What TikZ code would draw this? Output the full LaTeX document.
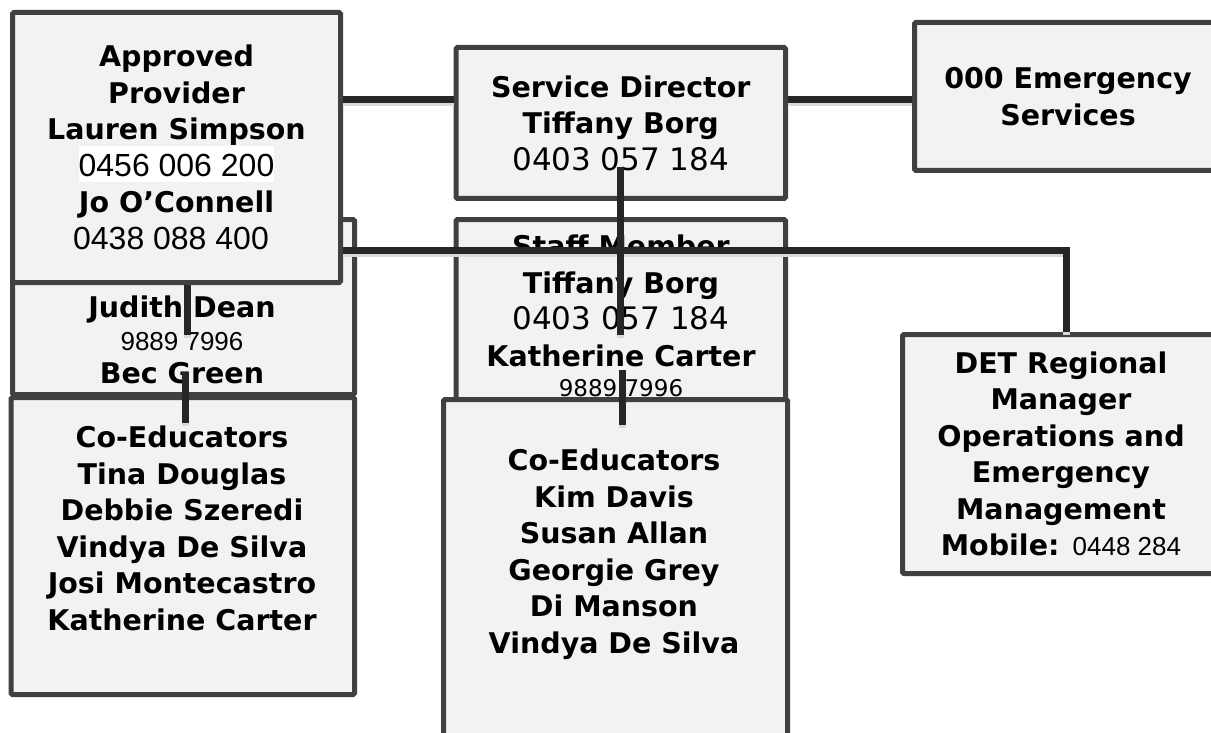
\documentclass[tikz,border=0pt]{standalone}
\usepackage{fontspec}
\setmainfont{DejaVu Sans}
\newfontfamily\arialfont{Liberation Sans}
\definecolor{boxfill}{HTML}{F2F2F2}
\definecolor{boxline}{HTML}{404040}
\definecolor{conncol}{HTML}{262626}
\newcommand\myB{\fontsize{28.5}{36.5}\selectfont\bfseries}
\newcommand\myReg[2]{{\fontsize{#1}{36.5}\selectfont\mdseries #2}}
\newcommand\myAr[2]{{\arialfont\fontsize{#1}{36.5}\selectfont\mdseries #2}}
\begin{document}
\begin{tikzpicture}[x=1pt,y=-1pt,
  box/.style={draw=boxline, fill=boxfill, line width=5pt, rounded corners=1.5pt,
              inner sep=0pt, align=center, font=\myB},
  txt/.style={align=center, inner sep=0pt, font=\myB},
  link/.style={draw=conncol, line width=7pt,
               preaction={draw=black!15, line width=7pt, transform canvas={yshift=-3pt}}}]
\useasboundingbox (0,0) rectangle (1211,733);
\clip (0,0) rectangle (1211,733);

% boxes (back to front)
\node[box, minimum width=342pt, minimum height=175pt] (judith) at (183.5,307) {};
\node[box, minimum width=328pt, minimum height=270pt] (AP) at (176.5,147.5)
  {Approved\\Provider\\Lauren Simpson\\
   {\setlength\fboxsep{0pt}\colorbox{white}{\rule[-6pt]{0pt}{36pt}\myAr{32}{0456 006 200}}}\\
   Jo O’Connell\\\myAr{32}{0438 088 400}\hspace*{11pt}};
\node[box, minimum width=329.5pt, minimum height=200.5pt] (staff) at (620.75,319.75) {};
\node[box, minimum width=329.5pt, minimum height=151pt] (SD) at (620.75,123)
  {Service Director\\Tiffany Borg\\\myReg{31}{0403 057 184}};
\node[box, minimum width=307pt, minimum height=148pt] (emerg) at (1068,96.5)
  {000 Emergency\\Services};
\node[box, minimum width=317pt, minimum height=239pt] (det) at (1061,454)
  {DET Regional\\Manager\\Operations and\\Emergency\\Management\\Mobile: \myAr{26}{0448 284}};

% texts of partly covered boxes
\node[txt] (judithtext) at (182,339.5)
  {Judith Dean\\[-3.5pt]\myAr{26}{9889 7996}\\[-3.5pt]Bec Green};
\node[txt] (stafftext) at (621,316)
  {Staff Member\\Tiffany Borg\\\myReg{31}{0403 057 184}\\Katherine Carter\\[-6.5pt]\myReg{23}{9889 7996}};

\node[box, minimum width=343.5pt, minimum height=297pt] (leftco) at (182.75,546) {};
\node[txt] (leftcotext) at (182,528.5)
  {Co-Educators\\Tina Douglas\\Debbie Szeredi\\Vindya De Silva\\Josi Montecastro\\Katherine Carter};
\node[box, minimum width=344pt, minimum height=380.5pt] (midco) at (615.5,589.75) {};
\node[txt] (midcotext) at (614,554.4)
  {Co-Educators\\Kim Davis\\Susan Allan\\Georgie Grey\\Di Manson\\Vindya De Silva};

% connectors
\coordinate (row1) at (0,100);
\coordinate (row2) at (0,250);
\coordinate (bend) at (1066,250);
\coordinate (v1end) at (187.5,335);
\coordinate (v2a) at (185,372);
\coordinate (v2b) at (185,423);
\coordinate (v3end) at (620,335);
\coordinate (v3a) at (620,167);
\coordinate (v4a) at (622,370);
\coordinate (v4b) at (622,425);

\draw[link] (AP.east |- row1) -- (SD.west |- row1);
\draw[link] (SD.east |- row1) -- (emerg.west |- row1);
\draw[link] (AP.east |- row2) -- (bend) -- (det.north -| bend);
\draw[link] (AP.south -| v1end) -- (v1end);
\draw[link] (v2a) -- (v2b);
\draw[link] (v3a) -- (v3end);
\draw[link] (v4a) -- (v4b);
\end{tikzpicture}
\end{document}
